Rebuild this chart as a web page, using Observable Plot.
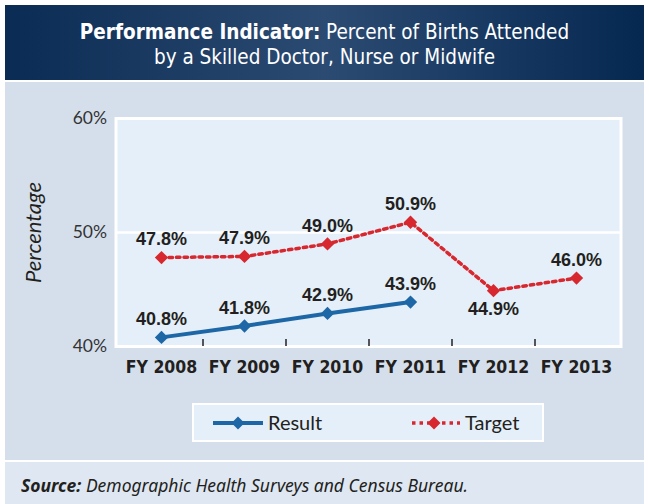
<!DOCTYPE html>
<html><head><meta charset="utf-8">
<script src="https://cdn.jsdelivr.net/npm/d3@7"></script>
<script src="https://cdn.jsdelivr.net/npm/@observablehq/plot@0.6"></script>
<style>
body{margin:0;background:#fff;}
#fig{position:relative;width:649px;height:504px;background:#fff;overflow:hidden;font-family:Lato,sans-serif;}
#hdr{position:absolute;left:5px;top:5px;width:639px;height:75px;box-sizing:border-box;padding-top:15px;
  background:linear-gradient(to right,#0a2b53 0%,#2c4b73 50%,#052851 100%);color:#fff;text-align:center;
  font-family:"DejaVu Sans Condensed","Liberation Sans",sans-serif;font-size:20.5px;line-height:25px;}
#hdr b{font-weight:700;}
#panel{position:absolute;left:5px;top:82px;width:639px;height:378px;background:#d5dfec;}
#chart{position:absolute;left:0;top:82px;}
#legend{position:absolute;left:192px;top:403px;width:352px;height:39px;box-sizing:border-box;border:2px solid #fff;background:#e5eff9;}
#foot{position:absolute;left:5px;top:462px;width:639px;height:42px;background:#dfe7f2;box-sizing:border-box;padding-left:16px;
  font-family:"Noto Sans",sans-serif;font-style:italic;font-size:17.5px;line-height:47px;color:#231f20;}
</style></head>
<body>
<div id="fig">
  <div id="hdr"><b>Performance Indicator:</b> Percent of Births Attended<br>by a Skilled Doctor, Nurse or Midwife</div>
  <div id="panel"></div>
  <div id="chart"></div>
  <div id="legend"></div>
  <div id="foot"><b>Source:</b> Demographic Health Surveys and Census Bureau.</div>
</div>
<script>
const years = ["FY 2008","FY 2009","FY 2010","FY 2011","FY 2012","FY 2013"];
const resultValues = [40.8, 41.8, 42.9, 43.9];
const targetValues = [47.8, 47.9, 49.0, 50.9, 44.9, 46.0];
const yTicks = [40, 50, 60];
const labelsBelow = ["FY 2012"];
const seriesNames = ["Result", "Target"];

const blue = "#1d67a6", red = "#d7282f", ink = "#231f20";
const result = resultValues.map((v, i) => ({year: years[i], value: v}));
const target = targetValues.map((v, i) => ({year: years[i], value: v}));
const fmt = d => d.value.toFixed(1) + "%";
const labelFont = "'Liberation Sans', Arial, sans-serif";
const condFont = "'DejaVu Sans Condensed', 'Liberation Sans', sans-serif";

const chart = Plot.plot({
  width: 649, height: 376,
  marginLeft: 115.5, marginRight: 28.5, marginTop: 36, marginBottom: 112,
  style: {background: "transparent"},
  x: {type: "point", domain: years, range: [119.5, 617.5], padding: 0.5},
  y: {domain: [40, 60]},
  marks: [
    Plot.frame({fill: "#e5eff9"}),
    Plot.ruleY([50], {stroke: "#fff", strokeWidth: 2.5}),
    Plot.frame({stroke: "#fff", strokeWidth: 3}),
    Plot.ruleX(years.slice(0, -1), {x: d => d, dx: 41.5, y1: 40, y2: 40.62, stroke: ink, strokeWidth: 1.5}),
    Plot.axisY(yTicks, {tickSize: 0, tickPadding: 9, tickFormat: d => d + "%", fontSize: 17.5, fontFamily: "Lato", fontWeight: 400, color: "#333", label: null}),
    Plot.axisX({tickSize: 0, tickPadding: 14, fontSize: 17.5, fontWeight: "bold", fontFamily: condFont, color: ink, label: null}),
    Plot.text(["Percentage"], {frameAnchor: "left", dx: -82.5, rotate: -90, textAnchor: "middle", fontSize: 22, fontStyle: "italic", fontWeight: 400, fontFamily: "Lato", fill: ink}),
    Plot.line(target, {x: "year", y: "value", stroke: red, strokeWidth: 3.5, strokeDasharray: "3.5,4"}),
    Plot.line(result, {x: "year", y: "value", stroke: blue, strokeWidth: 4}),
    Plot.dot(target, {x: "year", y: "value", symbol: "diamond2", r: 6, fill: red}),
    Plot.dot(result, {x: "year", y: "value", symbol: "diamond2", r: 6, fill: blue}),
    Plot.text(result, {x: "year", y: "value", text: fmt, dy: -18, fontSize: 18, fontWeight: "bold", fontFamily: labelFont, fill: ink}),
    Plot.text(target, {x: "year", y: "value", text: fmt, dy: -18, filter: d => !labelsBelow.includes(d.year), fontSize: 18, fontWeight: "bold", fontFamily: labelFont, fill: ink}),
    Plot.text(target, {x: "year", y: "value", text: fmt, dy: 19, filter: d => labelsBelow.includes(d.year), fontSize: 18, fontWeight: "bold", fontFamily: labelFont, fill: ink})
  ]
});
document.getElementById("chart").appendChild(chart);

// legend
const ns = "http://www.w3.org/2000/svg";
const lg = document.createElementNS(ns, "svg");
lg.setAttribute("width", 348); lg.setAttribute("height", 35);
lg.innerHTML = `
  <line x1="19" x2="69" y1="18" y2="18" stroke="${blue}" stroke-width="4"/>
  <path d="M44,11.5L50.5,18L44,24.5L37.5,18Z" fill="${blue}"/>
  <text x="74" y="18" dy="0.35em" font-family="Lato" font-weight="400" font-size="20" fill="${ink}">${seriesNames[0]}</text>
  <line x1="218" x2="266" y1="18" y2="18" stroke="${red}" stroke-width="3.5" stroke-dasharray="3.5,4"/>
  <path d="M240,11.5L246.5,18L240,24.5L233.5,18Z" fill="${red}"/>
  <text x="271" y="18" dy="0.35em" font-family="Lato" font-weight="400" font-size="20" fill="${ink}">${seriesNames[1]}</text>`;
document.getElementById("legend").appendChild(lg);
</script>
</body></html>
